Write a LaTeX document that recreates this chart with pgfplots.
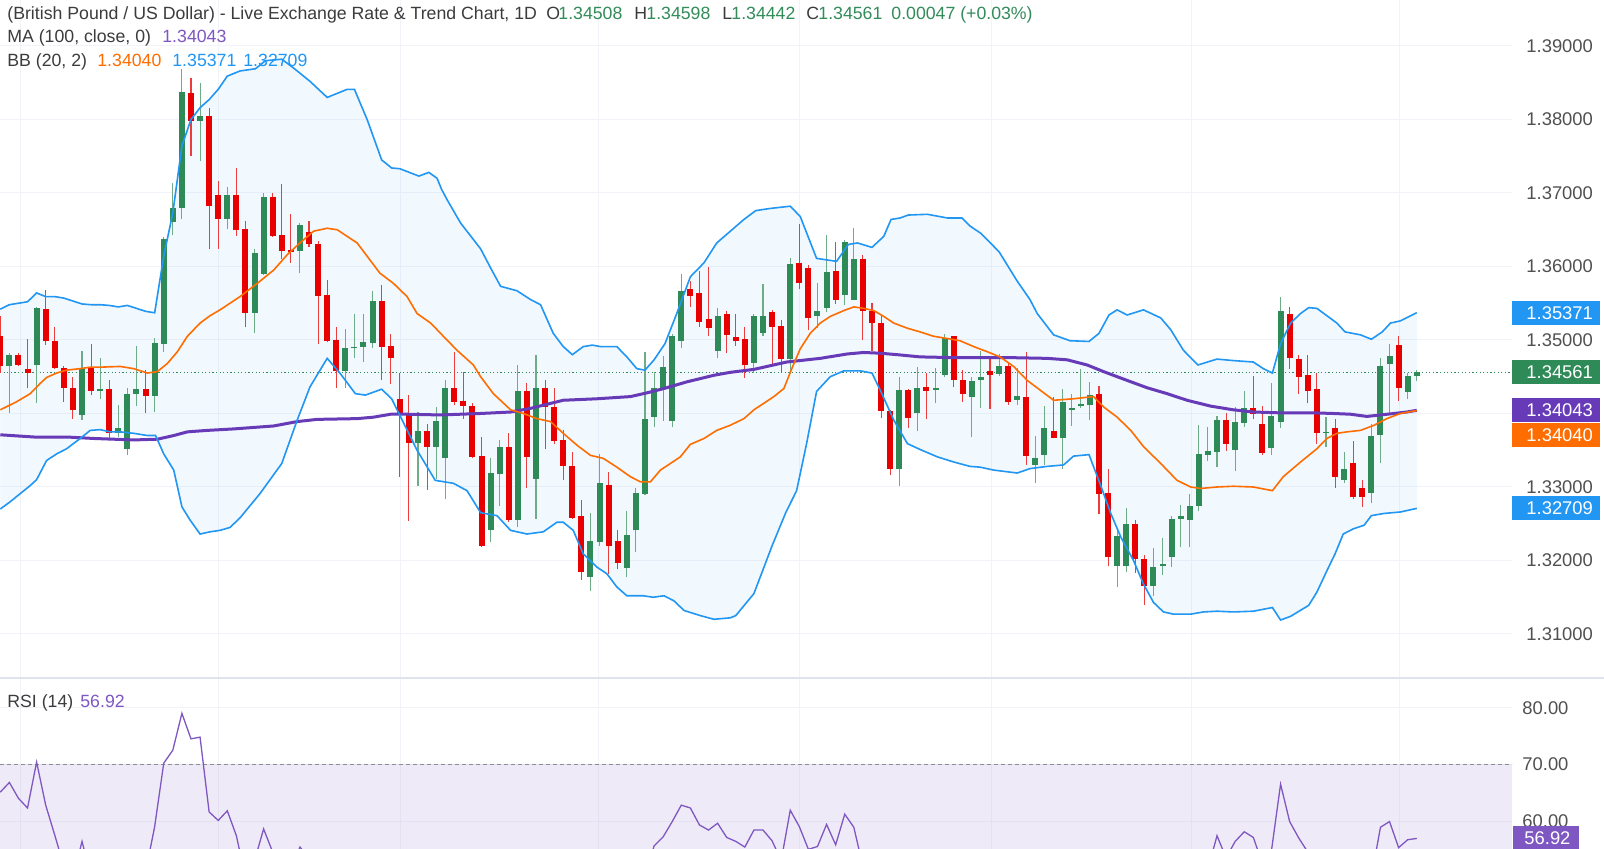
\documentclass[border=0pt]{standalone}
\usepackage{fontspec}
\setmainfont{Liberation Sans}
\usepackage{pgfplots}
\usepackage{pgfplotstable}
\pgfplotsset{compat=1.18}

\definecolor{upc}{RGB}{46,139,87}
\definecolor{dnc}{RGB}{232,0,0}
\definecolor{upwick}{RGB}{110,172,135}
\definecolor{dnwick}{RGB}{236,60,60}
\definecolor{bbblue}{RGB}{33,150,243}
\definecolor{bborange}{RGB}{255,109,0}
\definecolor{mapurple}{RGB}{103,58,183}
\definecolor{rsipurple}{RGB}{126,87,194}
\definecolor{gridc}{RGB}{241,243,249}
\definecolor{sepc}{RGB}{224,227,235}
\definecolor{hdr}{RGB}{60,60,60}
\definecolor{ticktxt}{RGB}{80,80,80}
\definecolor{hdrgreen}{RGB}{50,140,90}
\definecolor{dashc}{RGB}{140,140,150}

\newcommand\hf{\fontsize{8.85}{10}\selectfont}
\newcommand\tf{\fontsize{9.2}{10}\selectfont}

% green (rising) candles: index, open, high, low, close
\pgfplotstableread{
k o h l c
1 1.3464 1.3482 1.3401 1.3480
4 1.3466 1.3545 1.3414 1.3543
9 1.3398 1.3485 1.3391 1.3462
11 1.3430 1.3476 1.3420 1.3433
13 1.3374 1.3412 1.3368 1.3380
14 1.3352 1.3435 1.3344 1.3427
15 1.3427 1.3492 1.3410 1.3433
17 1.3424 1.3503 1.3402 1.3496
18 1.3495 1.3640 1.3483 1.3637
19 1.3661 1.3714 1.3643 1.3680
20 1.3680 1.3869 1.3664 1.3838
22 1.3798 1.3849 1.3743 1.3805
25 1.3665 1.3708 1.3651 1.3697
28 1.3537 1.3624 1.3509 1.3619
29 1.3590 1.3700 1.3589 1.3695
33 1.3621 1.3659 1.3591 1.3657
38 1.3458 1.3515 1.3435 1.3489
39 1.3489 1.3535 1.3476 1.3491
40 1.3491 1.3536 1.3470 1.3497
41 1.3496 1.3567 1.3489 1.3553
46 1.3360 1.3402 1.3302 1.3376
48 1.3355 1.3409 1.3311 1.3390
49 1.3339 1.3446 1.3283 1.3434
54 1.3241 1.3339 1.3225 1.3319
55 1.3318 1.3364 1.3274 1.3354
57 1.3255 1.3466 1.3246 1.3430
59 1.3311 1.3480 1.3257 1.3434
65 1.3178 1.3264 1.3159 1.3227
66 1.3225 1.3345 1.3220 1.3305
69 1.3190 1.3267 1.3177 1.3235
70 1.3241 1.3299 1.3211 1.3292
71 1.3291 1.3484 1.3289 1.3392
72 1.3395 1.3457 1.3381 1.3434
73 1.3435 1.3478 1.3390 1.3463
74 1.3390 1.3508 1.3381 1.3505
75 1.3499 1.3590 1.3489 1.3566
79 1.3485 1.3544 1.3475 1.3533
83 1.3469 1.3535 1.3455 1.3532
84 1.3509 1.3576 1.3506 1.3533
87 1.3474 1.3611 1.3455 1.3604
90 1.3532 1.3578 1.3516 1.3540
91 1.3543 1.3643 1.3538 1.3593
93 1.3561 1.3636 1.3548 1.3633
94 1.3555 1.3652 1.3554 1.3610
99 1.3324 1.3449 1.3302 1.3432
101 1.3400 1.3463 1.3376 1.3434
103 1.3432 1.3462 1.3414 1.3434
104 1.3453 1.3508 1.3449 1.3503
107 1.3423 1.3450 1.3368 1.3444
108 1.3445 1.3485 1.3408 1.3450
110 1.3454 1.3481 1.3451 1.3465
112 1.3418 1.3462 1.3411 1.3424
114 1.3330 1.3369 1.3305 1.3339
115 1.3344 1.3410 1.3330 1.3380
117 1.3367 1.3433 1.3325 1.3416
118 1.3405 1.3426 1.3383 1.3407
119 1.3410 1.3460 1.3407 1.3413
120 1.3411 1.3443 1.3391 1.3425
123 1.3192 1.3241 1.3164 1.3233
124 1.3192 1.3272 1.3184 1.3249
127 1.3165 1.3217 1.3152 1.3191
128 1.3192 1.3231 1.3180 1.3195
129 1.3205 1.3260 1.3191 1.3256
130 1.3257 1.3276 1.3218 1.3260
131 1.3255 1.3291 1.3218 1.3274
132 1.3274 1.3384 1.3268 1.3345
133 1.3344 1.3381 1.3336 1.3349
134 1.3348 1.3397 1.3327 1.3391
136 1.3351 1.3409 1.3322 1.3388
137 1.3387 1.3430 1.3382 1.3407
140 1.3353 1.3442 1.3343 1.3396
141 1.3389 1.3558 1.3380 1.3540
146 1.3374 1.3395 1.3355 1.3375
148 1.3310 1.3348 1.3305 1.3325
151 1.3292 1.3386 1.3278 1.3370
152 1.3371 1.3476 1.3333 1.3465
153 1.3467 1.3494 1.3401 1.3478
155 1.3429 1.3455 1.3420 1.3451
156 1.34508 1.34598 1.34442 1.34561
}\upcandles

% red (falling) candles: index, open, high, low, close
\pgfplotstableread{
k o h l c
0 1.3505 1.3532 1.3455 1.3464
2 1.3480 1.3482 1.3464 1.3466
3 1.3461 1.3501 1.3434 1.3455
5 1.3542 1.3568 1.3493 1.3498
6 1.3499 1.3517 1.3461 1.3462
7 1.3462 1.3464 1.3416 1.3435
8 1.3435 1.3450 1.3393 1.3405
10 1.3462 1.3495 1.3425 1.3430
12 1.3433 1.3446 1.3364 1.3374
16 1.3433 1.3459 1.3401 1.3424
21 1.3836 1.3857 1.3750 1.3798
23 1.3805 1.3815 1.3624 1.3682
24 1.3697 1.3716 1.3624 1.3665
26 1.3697 1.3734 1.3642 1.3650
27 1.3651 1.3662 1.3517 1.3537
30 1.3695 1.3700 1.3640 1.3642
31 1.3643 1.3712 1.3610 1.3621
32 1.3622 1.3671 1.3605 1.3620
34 1.3647 1.3662 1.3626 1.3630
35 1.3630 1.3635 1.3495 1.3560
36 1.3561 1.3582 1.3497 1.3498
37 1.3500 1.3517 1.3434 1.3458
42 1.3553 1.3575 1.3445 1.3491
43 1.3492 1.3508 1.3440 1.3476
44 1.3420 1.3455 1.3314 1.3400
45 1.3401 1.3425 1.3254 1.3360
47 1.3376 1.3386 1.3296 1.3355
50 1.3434 1.3483 1.3411 1.3416
51 1.3417 1.3456 1.3393 1.3410
52 1.3410 1.3414 1.3339 1.3341
53 1.3342 1.3368 1.3218 1.3220
56 1.3354 1.3374 1.3252 1.3255
58 1.3430 1.3442 1.3299 1.3341
60 1.3435 1.3445 1.3352 1.3409
61 1.3409 1.3435 1.3358 1.3363
62 1.3364 1.3378 1.3310 1.3328
63 1.3329 1.3347 1.3257 1.3258
64 1.3260 1.3282 1.3174 1.3185
67 1.3303 1.3320 1.3181 1.3220
68 1.3226 1.3242 1.3189 1.3196
76 1.3569 1.3580 1.3545 1.3560
77 1.3564 1.3594 1.3517 1.3525
78 1.3529 1.3599 1.3505 1.3516
80 1.3535 1.3540 1.3482 1.3507
81 1.3504 1.3535 1.3492 1.3499
82 1.3501 1.3518 1.3448 1.3466
85 1.3538 1.3541 1.3464 1.3517
86 1.3519 1.3527 1.3457 1.3474
88 1.3605 1.3658 1.3569 1.3577
89 1.3598 1.3602 1.3513 1.3530
92 1.3594 1.3633 1.3549 1.3555
95 1.3610 1.3615 1.3500 1.3539
96 1.3540 1.3550 1.3485 1.3523
97 1.3523 1.3533 1.3394 1.3403
98 1.3403 1.3405 1.3316 1.3325
100 1.3432 1.3433 1.3380 1.3394
102 1.3436 1.3455 1.3392 1.3431
105 1.3505 1.3506 1.3436 1.3445
106 1.3445 1.3459 1.3416 1.3426
109 1.3458 1.3476 1.3406 1.3452
111 1.3465 1.3470 1.3412 1.3416
113 1.3423 1.3483 1.3330 1.3342
116 1.3376 1.3423 1.3366 1.3367
121 1.3427 1.3437 1.3263 1.3291
122 1.3292 1.3324 1.3192 1.3205
125 1.3250 1.3255 1.3183 1.3202
126 1.3202 1.3208 1.3140 1.3165
135 1.3391 1.3401 1.3349 1.3358
138 1.3408 1.3451 1.3392 1.3399
139 1.3386 1.3410 1.3343 1.3346
142 1.3536 1.3545 1.3460 1.3476
143 1.3474 1.3480 1.3426 1.3450
144 1.3453 1.3480 1.3414 1.3430
145 1.3433 1.3455 1.3359 1.3374
147 1.3380 1.3392 1.3298 1.3314
149 1.3333 1.3362 1.3283 1.3286
150 1.3299 1.3310 1.3273 1.3287
154 1.3493 1.3506 1.3417 1.3434
}\downcandles

\pgfplotsset{
  panel/.style={
    scale only axis, width=756pt,
    xmin=-0.033, xmax=166.49,
    axis line style={draw=none}, tick style={draw=none},
    xtick={2.17,24.08,44.02,65.93,88.07,109.11,131.14,154.15},
    xticklabels={},
    xmajorgrids, ymajorgrids,
    grid style={gridc, line width=0.5pt},
    yticklabel pos=right,
    yticklabel style={anchor=west, inner sep=0pt, text=ticktxt, font=\tf},
  }
}

\begin{document}
\begin{tikzpicture}
\path[use as bounding box] (0pt,0pt) rectangle (802pt,424.5pt);
\fill[white] (0pt,0pt) rectangle (802pt,424.5pt);

% ---------------- price panel ----------------
\begin{axis}[panel,
  at={(0pt,85.5pt)}, anchor=south west, height=339pt,
  ymin=1.304014, ymax=1.396259,
  ytick={1.31,1.32,1.33,1.34,1.35,1.36,1.37,1.38,1.39},
  yticklabels={1.31000,1.32000,1.33000,{},1.35000,1.36000,1.37000,1.38000,1.39000},
  yticklabel style={xshift=7pt},
  clip=false,
]
% Bollinger band area (upper band forward, lower band backward)
\addplot[fill=bbblue, fill opacity=0.06, draw=none] coordinates {
(0,1.3542) (1,1.3548) (2,1.3550) (3,1.3552) (4,1.3564) (5,1.3559) (6,1.3559) (7,1.3557) (8,1.3553) (9,1.3549) (10,1.3548) (11,1.3548) (12,1.3547) (13,1.3545) (14,1.3547) (15,1.3543) (16,1.3539) (17,1.3537) (18,1.3614) (19,1.3673) (20,1.3764) (21,1.3800) (22,1.3816) (23,1.3827) (24,1.3841) (25,1.3859) (26.4,1.3866) (28.1,1.3869) (29.2,1.3880) (31.0,1.3882) (32.3,1.3870) (34.1,1.3852) (36.0,1.3830) (38.2,1.3841) (39.0,1.3841) (40.4,1.3800) (42.0,1.3745) (43.1,1.3734) (44.0,1.3733) (46.1,1.3723) (47.2,1.3728) (48.1,1.3720) (48.6,1.3705) (49.2,1.3691) (50.7,1.3659) (52.9,1.3624) (54.0,1.3598) (55.1,1.3573) (56.9,1.3567) (58.4,1.3555) (59.5,1.3548) (60.9,1.3509) (62.0,1.3491) (63.0,1.3480) (64.2,1.3491) (65.2,1.3493) (66.1,1.3491) (67.9,1.3491) (69.0,1.3477) (70.1,1.3461) (71.0,1.3459) (72.0,1.3473) (73.2,1.3495) (74.5,1.3536) (76.0,1.3586) (77.5,1.3605) (78.9,1.3632) (80.4,1.3648) (81.9,1.3664) (83.2,1.3676) (84.8,1.3679) (87.0,1.3682) (88.1,1.3668) (89.9,1.3611) (92.1,1.3607) (93.4,1.3630) (94.4,1.3632) (96.0,1.3626) (97.3,1.3641) (98.1,1.3664) (99.1,1.3666) (100.0,1.3670) (102.1,1.3671) (104.3,1.3666) (105.9,1.3666) (106.8,1.3655) (108,1.3645) (110,1.3620) (112,1.3580) (113.4,1.3555) (114.2,1.3536) (116.0,1.3507) (117.8,1.3499) (119.9,1.3498) (121.0,1.3509) (122.1,1.3534) (123.0,1.3541) (124.1,1.3534) (125.9,1.3541) (127.8,1.3530) (128.9,1.3514) (130.3,1.3486) (131.9,1.3466) (134.0,1.3474) (135.8,1.3472) (138.0,1.3470) (139.1,1.3461) (140.1,1.3455) (141.0,1.3495) (142.1,1.3523) (143.2,1.3536) (144.1,1.3544) (145.0,1.3543) (147.2,1.3523) (148.1,1.3511) (149.8,1.3507) (151.0,1.3501) (152.2,1.3511) (153.1,1.3523) (154.2,1.3526) (156,1.35371)
(156,1.32709) (154.2,1.3266) (152.4,1.3264) (151.0,1.3261) (150.2,1.3248) (149.0,1.3243) (147.9,1.3236) (147.0,1.3209) (146.1,1.3186) (145.0,1.3157) (144.1,1.3139) (142.1,1.3124) (141.0,1.3119) (140.1,1.3136) (138.0,1.3131) (135.8,1.3130) (134.0,1.3131) (132.5,1.3130) (131.1,1.3127) (129.2,1.3127) (128.1,1.3130) (127.0,1.3143) (125.9,1.3168) (124.8,1.3200) (123.4,1.3232) (122.3,1.3264) (121.1,1.3305) (119.9,1.3344) (118.2,1.3342) (117.1,1.3330) (115.3,1.3328) (113.4,1.3325) (112.0,1.3319) (109.4,1.3323) (107.9,1.3327) (106.8,1.3328) (105.0,1.3334) (103.2,1.3341) (101.3,1.3351) (99.9,1.3359) (98.4,1.3391) (96.9,1.3432) (96.0,1.3455) (94.7,1.3458) (92.9,1.3458) (91.4,1.3450) (89.9,1.3430) (88.8,1.3359) (87.7,1.3295) (86.5,1.3265) (85,1.3220) (83,1.3155) (81,1.3125) (80.4,1.3122) (78.6,1.3120) (77.1,1.3125) (75.3,1.3132) (74.2,1.3145) (73.1,1.3152) (71.9,1.3150) (70.8,1.3152) (69.0,1.3152) (67.9,1.3164) (66.8,1.3182) (65.7,1.3191) (64.2,1.3209) (63.1,1.3241) (62.0,1.3252) (61.3,1.3252) (59.8,1.3239) (58.0,1.3236) (56.2,1.3241) (54.7,1.3261) (52.9,1.3265) (51.4,1.3295) (49.9,1.3305) (47.9,1.3309) (45.9,1.3350) (44.1,1.3395) (43.1,1.3420) (42.0,1.3433) (40.2,1.3425) (39.1,1.3427) (37.4,1.3455) (36.0,1.3475) (34.1,1.3436) (32.7,1.3391) (31.0,1.3332) (28.6,1.3291) (26.4,1.3258) (25.3,1.3245) (24.2,1.3241) (23.1,1.3239) (22.0,1.3236) (20.9,1.3255) (20.0,1.3273) (19.1,1.3323) (18.0,1.3345) (17.1,1.3370) (16.2,1.3370) (14.7,1.3373) (13.2,1.3375) (12.1,1.3375) (11.0,1.3378) (9.9,1.3377) (8.8,1.3366) (7.3,1.3352) (6.2,1.3345) (5.1,1.3336) (4.0,1.3310) (3.3,1.3302) (2.2,1.3291) (1.1,1.3280) (0,1.3270)};

% last close line
\addplot[upc, line width=0.5pt, dash pattern=on 0.6pt off 1.2pt] coordinates {(-0.033,1.34561) (166.49,1.34561)};

% wicks
\addplot[quiver={u=0, v=\thisrow{h}-\thisrow{l}}, -, draw=upwick, line width=0.55pt] table[x=k, y=l] {\upcandles};
\addplot[quiver={u=0, v=\thisrow{h}-\thisrow{l}}, -, draw=dnwick, line width=0.55pt] table[x=k, y=l] {\downcandles};
% bodies
\addplot[quiver={u=0, v=\thisrow{c}-\thisrow{o}}, -, draw=upc, line width=3pt] table[x=k, y=o] {\upcandles};
\addplot[quiver={u=0, v=\thisrow{c}-\thisrow{o}}, -, draw=dnc, line width=3pt] table[x=k, y=o] {\downcandles};

% MA 100
\addplot[mapurple, line width=1.5pt] coordinates {
(0,1.3371) (3.7,1.3368) (7.3,1.3368) (10.3,1.3366) (14.7,1.3364) (17.3,1.3365) (19.1,1.3370) (20.6,1.3375) (22.8,1.3377) (25.7,1.3379) (30.1,1.3383) (32.7,1.3389) (34.9,1.3392) (39.3,1.3393) (41.1,1.3395) (43.0,1.3399) (44.8,1.3399) (48.5,1.3398) (52.9,1.3400) (56.2,1.3402) (58.4,1.3407) (62.0,1.3418) (65.7,1.3420) (69.4,1.3423) (71.2,1.3428) (73.1,1.3434) (75.6,1.3443) (78.6,1.3452) (80.4,1.3456) (83.0,1.3460) (86.6,1.3470) (90.3,1.3475) (93.3,1.3481) (95.1,1.3483) (96.9,1.3482) (98.8,1.3480) (101.3,1.3477) (105.0,1.3476) (111.2,1.3476) (115.3,1.3475) (117.5,1.3473) (119.7,1.3466) (121.5,1.3457) (124.1,1.3445) (126.3,1.3435) (128.5,1.3427) (130.7,1.3418) (133.3,1.3410) (135.8,1.3405) (138.0,1.3402) (140.6,1.3401) (144.3,1.3401) (146.8,1.3400) (148.7,1.3399) (150.5,1.3396) (152.0,1.3398) (153.5,1.3400) (154.9,1.3402) (156,1.34043)};
% BB middle
\addplot[bborange, line width=0.8pt] coordinates {
(0,1.3405) (1.8,1.3416) (3.3,1.3427) (4.4,1.3441) (5.1,1.3449) (6.2,1.3455) (7.3,1.3459) (8.8,1.3461) (9.9,1.3463) (11.0,1.3463) (13.2,1.3464) (14.7,1.3461) (16.2,1.3455) (17.3,1.3457) (18.4,1.3468) (19.5,1.3484) (20.6,1.3505) (22.0,1.3523) (23.1,1.3533) (24.2,1.3541) (25.3,1.3550) (26.4,1.3559) (28.3,1.3577) (30.1,1.3595) (31.6,1.3616) (33.0,1.3632) (34.5,1.3648) (36.0,1.3652) (37.1,1.3650) (38.2,1.3641) (39.3,1.3632) (40.4,1.3614) (41.8,1.3591) (43.3,1.3577) (44.8,1.3559) (45.9,1.3536) (47.4,1.3523) (48.8,1.3505) (50.3,1.3486) (52.1,1.3466) (52.9,1.3450) (54.3,1.3427) (56.2,1.3405) (57.6,1.3400) (59.1,1.3393) (60.6,1.3389) (62.0,1.3373) (63.5,1.3357) (65.0,1.3343) (66.4,1.3339) (67.9,1.3327) (69.4,1.3314) (70.5,1.3307) (71.6,1.3307) (72.7,1.3323) (74.9,1.3341) (76.0,1.3358) (77.5,1.3366) (78.9,1.3377) (80.4,1.3384) (81.9,1.3393) (83.0,1.3405) (84.1,1.3414) (85.2,1.3423) (86.3,1.3434) (87.2,1.3462) (88.1,1.3488) (89.2,1.3509) (90.3,1.3523) (91.4,1.3532) (92.9,1.3540) (94.0,1.3545) (95.1,1.3543) (96.2,1.3540) (97.3,1.3532) (98.4,1.3523) (99.9,1.3516) (101.3,1.3511) (102.8,1.3505) (104.3,1.3502) (105.7,1.3499) (107.2,1.3491) (108.7,1.3484) (110.1,1.3477) (111.6,1.3464) (113.1,1.3445) (114.5,1.3432) (116.0,1.3418) (118.2,1.3420) (120.4,1.3423) (121.5,1.3409) (123.0,1.3395) (124.5,1.3377) (125.9,1.3355) (127.8,1.3332) (129.6,1.3309) (131.1,1.3300) (132.2,1.3298) (134.0,1.3300) (135.8,1.3301) (138.0,1.3300) (140.1,1.3295) (141.3,1.3314) (143.2,1.3334) (145.0,1.3352) (146.1,1.3366) (147.2,1.3373) (148.3,1.3375) (149.8,1.3377) (151.3,1.3384) (152.7,1.3393) (154.2,1.3400) (156,1.34040)};
% BB upper / lower lines
\addplot[bbblue, line width=0.8pt] coordinates {
(0,1.3542) (1,1.3548) (2,1.3550) (3,1.3552) (4,1.3564) (5,1.3559) (6,1.3559) (7,1.3557) (8,1.3553) (9,1.3549) (10,1.3548) (11,1.3548) (12,1.3547) (13,1.3545) (14,1.3547) (15,1.3543) (16,1.3539) (17,1.3537) (18,1.3614) (19,1.3673) (20,1.3764) (21,1.3800) (22,1.3816) (23,1.3827) (24,1.3841) (25,1.3859) (26.4,1.3866) (28.1,1.3869) (29.2,1.3880) (31.0,1.3882) (32.3,1.3870) (34.1,1.3852) (36.0,1.3830) (38.2,1.3841) (39.0,1.3841) (40.4,1.3800) (42.0,1.3745) (43.1,1.3734) (44.0,1.3733) (46.1,1.3723) (47.2,1.3728) (48.1,1.3720) (48.6,1.3705) (49.2,1.3691) (50.7,1.3659) (52.9,1.3624) (54.0,1.3598) (55.1,1.3573) (56.9,1.3567) (58.4,1.3555) (59.5,1.3548) (60.9,1.3509) (62.0,1.3491) (63.0,1.3480) (64.2,1.3491) (65.2,1.3493) (66.1,1.3491) (67.9,1.3491) (69.0,1.3477) (70.1,1.3461) (71.0,1.3459) (72.0,1.3473) (73.2,1.3495) (74.5,1.3536) (76.0,1.3586) (77.5,1.3605) (78.9,1.3632) (80.4,1.3648) (81.9,1.3664) (83.2,1.3676) (84.8,1.3679) (87.0,1.3682) (88.1,1.3668) (89.9,1.3611) (92.1,1.3607) (93.4,1.3630) (94.4,1.3632) (96.0,1.3626) (97.3,1.3641) (98.1,1.3664) (99.1,1.3666) (100.0,1.3670) (102.1,1.3671) (104.3,1.3666) (105.9,1.3666) (106.8,1.3655) (108,1.3645) (110,1.3620) (112,1.3580) (113.4,1.3555) (114.2,1.3536) (116.0,1.3507) (117.8,1.3499) (119.9,1.3498) (121.0,1.3509) (122.1,1.3534) (123.0,1.3541) (124.1,1.3534) (125.9,1.3541) (127.8,1.3530) (128.9,1.3514) (130.3,1.3486) (131.9,1.3466) (134.0,1.3474) (135.8,1.3472) (138.0,1.3470) (139.1,1.3461) (140.1,1.3455) (141.0,1.3495) (142.1,1.3523) (143.2,1.3536) (144.1,1.3544) (145.0,1.3543) (147.2,1.3523) (148.1,1.3511) (149.8,1.3507) (151.0,1.3501) (152.2,1.3511) (153.1,1.3523) (154.2,1.3526) (156,1.35371)};
\addplot[bbblue, line width=0.8pt] coordinates {
(0,1.3270) (1.1,1.3280) (2.2,1.3291) (3.3,1.3302) (4.0,1.3310) (5.1,1.3336) (6.2,1.3345) (7.3,1.3352) (8.8,1.3366) (9.9,1.3377) (11.0,1.3378) (12.1,1.3375) (13.2,1.3375) (14.7,1.3373) (16.2,1.3370) (17.1,1.3370) (18.0,1.3345) (19.1,1.3323) (20.0,1.3273) (20.9,1.3255) (22.0,1.3236) (23.1,1.3239) (24.2,1.3241) (25.3,1.3245) (26.4,1.3258) (28.6,1.3291) (31.0,1.3332) (32.7,1.3391) (34.1,1.3436) (36.0,1.3475) (37.4,1.3455) (39.1,1.3427) (40.2,1.3425) (42.0,1.3433) (43.1,1.3420) (44.1,1.3395) (45.9,1.3350) (47.9,1.3309) (49.9,1.3305) (51.4,1.3295) (52.9,1.3265) (54.7,1.3261) (56.2,1.3241) (58.0,1.3236) (59.8,1.3239) (61.3,1.3252) (62.0,1.3252) (63.1,1.3241) (64.2,1.3209) (65.7,1.3191) (66.8,1.3182) (67.9,1.3164) (69.0,1.3152) (70.8,1.3152) (71.9,1.3150) (73.1,1.3152) (74.2,1.3145) (75.3,1.3132) (77.1,1.3125) (78.6,1.3120) (80.4,1.3122) (81,1.3125) (83,1.3155) (85,1.3220) (86.5,1.3265) (87.7,1.3295) (88.8,1.3359) (89.9,1.3430) (91.4,1.3450) (92.9,1.3458) (94.7,1.3458) (96.0,1.3455) (96.9,1.3432) (98.4,1.3391) (99.9,1.3359) (101.3,1.3351) (103.2,1.3341) (105.0,1.3334) (106.8,1.3328) (107.9,1.3327) (109.4,1.3323) (112.0,1.3319) (113.4,1.3325) (115.3,1.3328) (117.1,1.3330) (118.2,1.3342) (119.9,1.3344) (121.1,1.3305) (122.3,1.3264) (123.4,1.3232) (124.8,1.3200) (125.9,1.3168) (127.0,1.3143) (128.1,1.3130) (129.2,1.3127) (131.1,1.3127) (132.5,1.3130) (134.0,1.3131) (135.8,1.3130) (138.0,1.3131) (140.1,1.3136) (141.0,1.3119) (142.1,1.3124) (144.1,1.3139) (145.0,1.3157) (146.1,1.3186) (147.0,1.3209) (147.9,1.3236) (149.0,1.3243) (150.2,1.3248) (151.0,1.3261) (152.4,1.3264) (154.2,1.3266) (156,1.32709)};

% value badges on the price scale
\node[fill=bbblue, anchor=west, inner sep=0pt, minimum width=44pt, minimum height=12pt] at (axis cs:166.49,1.35371) {};
\node[anchor=west, inner sep=0pt, text=white, font=\tf] at ([xshift=7pt]axis cs:166.49,1.35371) {1.35371};
\node[fill=upc, anchor=west, inner sep=0pt, minimum width=44pt, minimum height=12pt] at (axis cs:166.49,1.34561) {};
\node[anchor=west, inner sep=0pt, text=white, font=\tf] at ([xshift=7pt]axis cs:166.49,1.34561) {1.34561};
\node[fill=mapurple, anchor=west, inner sep=0pt, minimum width=44pt, minimum height=12pt] at (axis cs:166.49,1.34043) {};
\node[anchor=west, inner sep=0pt, text=white, font=\tf] at ([xshift=7pt]axis cs:166.49,1.34043) {1.34043};
\node[fill=bborange, anchor=west, inner sep=0pt, minimum width=44pt, minimum height=12pt] at (axis cs:166.49,1.33707) {};
\node[anchor=west, inner sep=0pt, text=white, font=\tf] at ([xshift=7pt]axis cs:166.49,1.33707) {1.34040};
\node[fill=bbblue, anchor=west, inner sep=0pt, minimum width=44pt, minimum height=12pt] at (axis cs:166.49,1.32709) {};
\node[anchor=west, inner sep=0pt, text=white, font=\tf] at ([xshift=7pt]axis cs:166.49,1.32709) {1.32709};
\end{axis}

% ---------------- RSI panel ----------------
\begin{axis}[panel,
  at={(0pt,0pt)}, anchor=south west, height=85.5pt,
  ymin=55.06, ymax=85.24,
  ytick={60,70,80},
  yticklabels={60.00,70.00,80.00},
  yticklabel style={xshift=5pt},
]
\addplot[fill=rsipurple, fill opacity=0.12, draw=none] coordinates {(-0.033,30) (166.49,30) (166.49,70) (-0.033,70)};
\addplot[dashc, line width=0.5pt, dash pattern=on 2pt off 1.5pt] coordinates {(-0.033,70) (166.49,70)};
\addplot[rsipurple, line width=0.65pt] coordinates {
(0,65.1) (1,66.8) (2,64.0) (3,62.3) (4,70.4) (5,62.8) (6,57.5) (7,52) (8,50) (9,56.4) (10,50) (11,50.5) (12,45) (13,46) (14,51) (15,52) (16,51) (17,59) (18,70.2) (19,72.5) (20,79.0) (21,74.5) (22,74.8) (23,61.6) (24,60.1) (25,61.8) (26,57.4) (27,50) (28,53) (29,58.6) (30,54.5) (31,52) (32,51.5) (33,55.4) (34,53.5) (35,47) (36,43) (37,40) (38,42) (39,42.5) (40,43) (41,47) (42,44) (43,43) (44,41) (45,38) (46,39) (47,38) (48,40) (49,44) (50,43) (51,42.5) (52,39) (53,34) (54,38) (55,40) (56,37) (57,46) (58,42) (59,47) (60,46) (61,44) (62,42) (63,39) (64,35) (65,38) (66,42) (67,39) (68,38) (69,41) (70,44) (71,50) (72,55.6) (73,57.2) (74,59.9) (75,62.8) (76,62.3) (77,59.3) (78,58.4) (79,59.6) (80,57.1) (81,56.4) (82,55.4) (83,58.4) (84,58.4) (85,56.5) (86,53) (87,61.9) (88,59.0) (89,55.0) (90,55.5) (91,59.4) (92,55.8) (93,61.2) (94,58.9) (95,52) (96,50.5) (97,43) (98,38) (99,44) (100,42) (101,44) (102,44) (103,44) (104,48) (105,45) (106,44) (107,45) (108,46) (109,46) (110,47) (111,44) (112,44.5) (113,40) (114,40.5) (115,43) (116,42.5) (117,45) (118,45) (119,45.5) (120,46) (121,38) (122,34) (123,37) (124,38) (125,36) (126,34) (127,36.5) (128,37) (129,41) (130,41.5) (131,42.5) (132,50) (133,51.5) (134,57.4) (135,53.5) (136,56.4) (137,58.1) (138,57.1) (139,52.5) (140,54.8) (141,66.5) (142,59.9) (143,57.0) (144,54.5) (145,49) (146,49) (147,44) (148,45) (149,42) (150,42) (151,50) (152,58.9) (153,59.9) (154,55.3) (155,56.7) (156,56.92)};
\end{axis}

% RSI value badge (56.92 on the RSI scale)
\fill[rsipurple] (756.5pt,-0.73pt) rectangle (789.5pt,11.27pt);
\node[anchor=west, inner sep=0pt, text=white, font=\tf] at (762pt,5.27pt) {56.92};

% panel separator
\draw[sepc, line width=0.75pt] (0pt,85.5pt) -- (802pt,85.5pt);

% legend / header texts
\node[anchor=base west, inner sep=0pt, text=hdr, font=\hf] at (3.5pt,414.75pt) {(British Pound / US Dollar) - Live Exchange Rate \& Trend Chart, 1D};
\node[anchor=base west, inner sep=0pt, text=hdr, font=\hf] at (273pt,414.75pt) {O};
\node[anchor=base west, inner sep=0pt, text=hdrgreen, font=\hf] at (279pt,414.75pt) {1.34508};
\node[anchor=base west, inner sep=0pt, text=hdr, font=\hf] at (317pt,414.75pt) {H};
\node[anchor=base west, inner sep=0pt, text=hdrgreen, font=\hf] at (323pt,414.75pt) {1.34598};
\node[anchor=base west, inner sep=0pt, text=hdr, font=\hf] at (361pt,414.75pt) {L};
\node[anchor=base west, inner sep=0pt, text=hdrgreen, font=\hf] at (365.5pt,414.75pt) {1.34442};
\node[anchor=base west, inner sep=0pt, text=hdr, font=\hf] at (403pt,414.75pt) {C};
\node[anchor=base west, inner sep=0pt, text=hdrgreen, font=\hf] at (409pt,414.75pt) {1.34561};
\node[anchor=base west, inner sep=0pt, text=hdrgreen, font=\hf] at (445.5pt,414.75pt) {0.00047 (+0.03\%)};

\node[anchor=base west, inner sep=0pt, text=hdr, font=\hf] at (3.5pt,403pt) {MA (100, close, 0)};
\node[anchor=base west, inner sep=0pt, text=rsipurple, font=\hf] at (81pt,403pt) {1.34043};

\node[anchor=base west, inner sep=0pt, text=hdr, font=\hf] at (3.5pt,391.25pt) {BB (20, 2)};
\node[anchor=base west, inner sep=0pt, text=bborange, font=\hf] at (48.5pt,391.25pt) {1.34040};
\node[anchor=base west, inner sep=0pt, text=bbblue, font=\hf] at (86pt,391.25pt) {1.35371};
\node[anchor=base west, inner sep=0pt, text=bbblue, font=\hf] at (121.5pt,391.25pt) {1.32709};

\node[anchor=base west, inner sep=0pt, text=hdr, font=\hf] at (3.5pt,70.75pt) {RSI (14)};
\node[anchor=base west, inner sep=0pt, text=rsipurple, font=\hf] at (40pt,70.75pt) {56.92};
\end{tikzpicture}
\end{document}
